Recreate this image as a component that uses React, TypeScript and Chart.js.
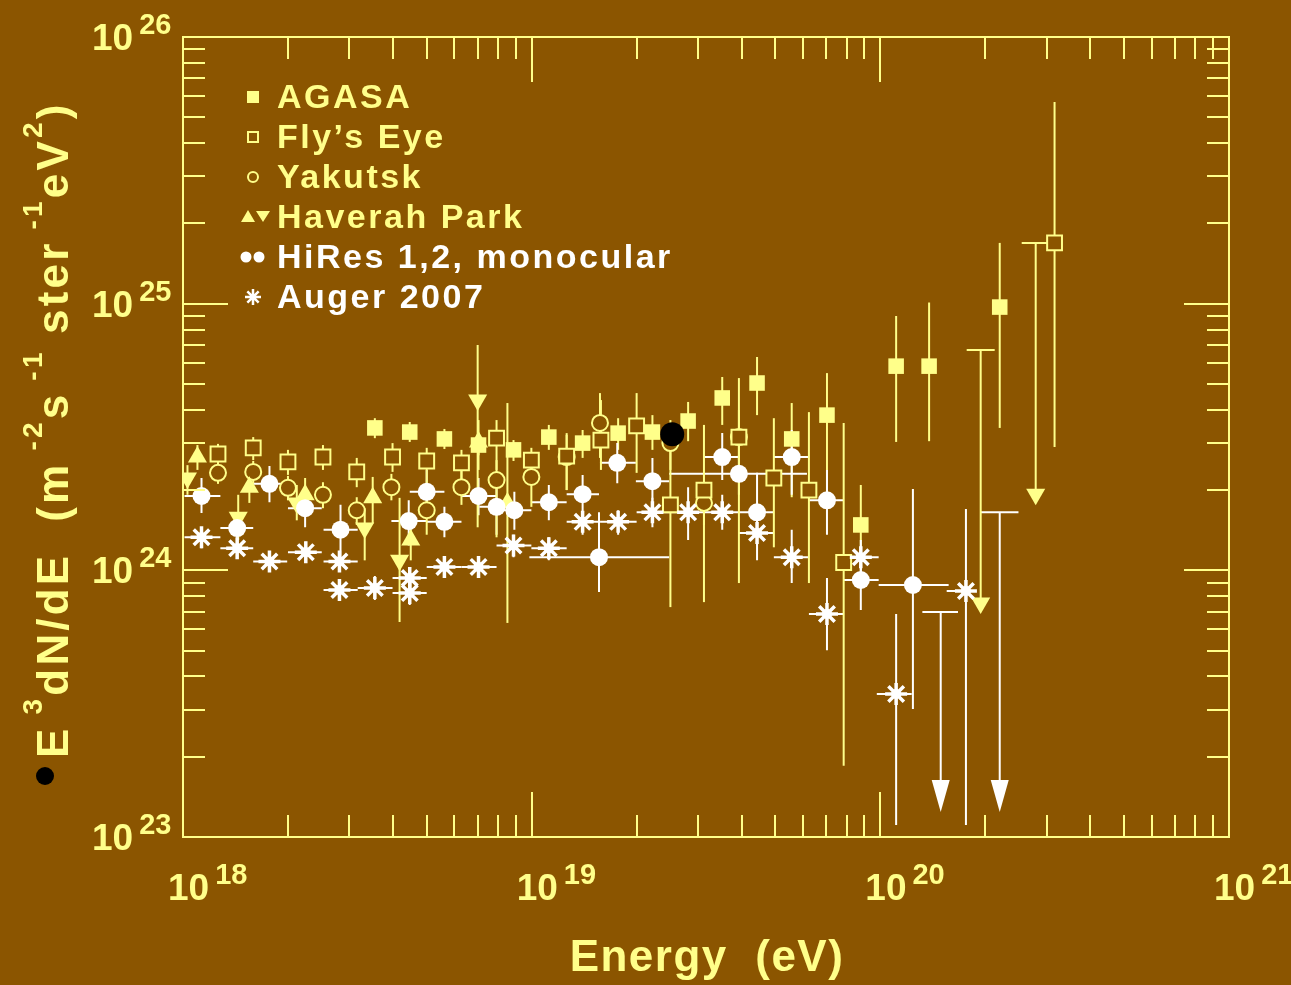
import React, { useEffect, useRef } from 'react';
import { Chart, registerables } from 'chart.js';

Chart.register(...registerables);

const BG = '#8B5500';
const YEL = '#FFFF8A';
const WHT = '#FFFFFF';
const FONT = '"Liberation Sans", Arial, Helvetica, sans-serif';

// [energy, flux, low, high]
const agasa: number[][] = [
  [3.55e18, 3.42e24, 3.13e24, 3.72e24],
  [4.47e18, 3.30e24, 3.03e24, 3.60e24],
  [5.62e18, 3.11e24, 2.85e24, 3.39e24],
  [7.04e18, 2.95e24, 2.70e24, 3.22e24],
  [8.87e18, 2.83e24, 2.57e24, 3.08e24],
  [1.12e19, 3.16e24, 2.83e24, 3.51e24],
  [1.40e19, 3.00e24, 2.64e24, 3.36e24],
  [1.77e19, 3.27e24, 2.83e24, 3.72e24],
  [2.22e19, 3.30e24, 2.83e24, 3.82e24],
  [2.81e19, 3.63e24, 3.05e24, 4.28e24],
  [3.52e19, 4.43e24, 3.51e24, 5.31e24],
  [4.43e19, 5.04e24, 3.82e24, 6.31e24],
  [5.57e19, 3.11e24, 1.88e24, 4.24e24],
  [7.03e19, 3.82e24, 1.88e24, 5.49e24],
  [8.79e19, 1.48e24, 1.09e24, 2.09e24],
  [1.11e20, 5.83e24, 3.03e24, 8.99e24],
  [1.38e20, 5.83e24, 3.05e24, 1.01e25],
  [2.20e20, 9.71e24, 3.42e24, 1.69e25],
];

const flysEye: number[][] = [
  [1.26e18, 2.73e24, 2.46e24, 2.98e24],
  [1.59e18, 2.88e24, 2.59e24, 3.16e24],
  [2.0e18, 2.55e24, 2.28e24, 2.83e24],
  [2.52e18, 2.66e24, 2.38e24, 2.95e24],
  [3.15e18, 2.34e24, 2.05e24, 2.64e24],
  [3.99e18, 2.66e24, 2.34e24, 3.0e24],
  [5.0e18, 2.57e24, 2.05e24, 2.88e24],
  [6.29e18, 2.53e24, 2.0e24, 2.83e24],
  [7.93e18, 3.13e24, 2.38e24, 3.66e24],
  [9.98e18, 2.59e24, 2.09e24, 2.88e24],
  [1.26e19, 2.68e24, 2.0e24, 3.22e24],
  [1.58e19, 3.08e24, 2.38e24, 4.35e24],
  [2.0e19, 3.48e24, 2.32e24, 4.62e24],
  [2.5e19, 1.76e24, 7.28e23, 3.08e24],
  [3.12e19, 2.0e24, 7.6e23, 3.51e24],
  [3.93e19, 3.16e24, 8.96e23, 5.26e24],
  [4.95e19, 2.22e24, 1.22e24, 3.72e24],
  [6.24e19, 2.0e24, 8.96e23, 3.92e24],
  [7.85e19, 1.07e24, 1.85e23, 3.57e24],
  [3.16e20, 1.69e25, 2.9e24, 5.7e25],
];

const yakutsk: number[][] = [
  [1.26e18, 2.32e24, 2.11e24, 2.55e24],
  [1.59e18, 2.34e24, 2.12e24, 2.57e24],
  [2.0e18, 2.04e24, 1.83e24, 2.26e24],
  [2.52e18, 1.92e24, 1.71e24, 2.14e24],
  [3.15e18, 1.68e24, 1.48e24, 1.88e24],
  [3.96e18, 2.05e24, 1.83e24, 2.3e24],
  [5.0e18, 1.68e24, 1.36e24, 2.0e24],
  [6.29e18, 2.05e24, 1.76e24, 2.48e24],
  [7.93e18, 2.18e24, 1.33e24, 2.59e24],
  [9.98e18, 2.24e24, 1.73e24, 2.75e24],
  [1.26e19, 2.66e24, 2.0e24, 3.27e24],
  [1.57e19, 3.57e24, 2.64e24, 4.62e24],
  [2.5e19, 3.0e24, 2.38e24, 3.66e24],
  [3.12e19, 1.79e24, 1.48e24, 2.09e24],
  [3.93e19, 3.16e24, 2.59e24, 3.99e24],
];

const haverahUp: number[][] = [
  [1.10e18, 2.66e24, 2.38e24, 2.95e24],
  [1.55e18, 2.05e24, 1.79e24, 2.38e24],
  [2.24e18, 1.92e24, 1.65e24, 2.22e24],
  [3.50e18, 1.87e24, 1.50e24, 2.24e24],
  [4.50e18, 1.30e24, 1.09e24, 1.54e24],
  [7.04e18, 3.03e24, 2.38e24, 3.66e24],
  [8.52e18, 1.79e24, 6.35e23, 4.24e24],
];

// [energy, flux, low, high, cap on top (1)]
const haverahDown: number[][] = [
  [1.03e18, 2.22e24, 1.92e24, 2.48e24, 0],
  [1.44e18, 1.58e24, 1.30e24, 1.92e24, 0],
  [2.12e18, 1.79e24, 1.54e24, 2.09e24, 0],
  [3.32e18, 1.44e24, 1.09e24, 1.71e24, 0],
  [4.18e18, 1.09e24, 6.40e23, 1.87e24, 0],
  [7.0e18, 4.35e24, 1.45e24, 7.0e24, 0],
  [1.94e20, 7.54e23, 7.54e23, 6.7e24, 1],
  [2.79e20, 1.93e24, 1.93e24, 1.69e25, 1],
];

// [energy, flux, low, high, energyLow, energyHigh]
const hires: number[][] = [
  [1.13e18, 1.90e24, 1.64e24, 2.22e24, 1.01e18, 1.28e18],
  [1.43e18, 1.44e24, 1.24e24, 1.65e24, 1.28e18, 1.59e18],
  [1.77e18, 2.11e24, 1.80e24, 2.46e24, 1.59e18, 1.99e18],
  [2.24e18, 1.71e24, 1.45e24, 2.0e24, 2.0e18, 2.5e18],
  [2.83e18, 1.42e24, 1.07e24, 1.76e24, 2.53e18, 3.17e18],
  [4.44e18, 1.53e24, 1.24e24, 1.83e24, 3.96e18, 5.0e18],
  [5.0e18, 1.97e24, 1.61e24, 2.38e24, 4.47e18, 5.62e18],
  [5.62e18, 1.52e24, 1.33e24, 1.73e24, 5.0e18, 6.29e18],
  [7.04e18, 1.90e24, 1.61e24, 2.22e24, 6.29e18, 7.93e18],
  [7.93e18, 1.73e24, 1.36e24, 2.09e24, 7.08e18, 8.87e18],
  [8.92e18, 1.68e24, 1.42e24, 1.97e24, 7.93e18, 9.98e18],
  [1.12e19, 1.80e24, 1.54e24, 2.09e24, 9.98e18, 1.26e19],
  [1.40e19, 1.93e24, 1.61e24, 2.28e24, 1.26e19, 1.56e19],
  [1.76e19, 2.53e24, 2.12e24, 3.0e24, 1.57e19, 1.99e19],
  [2.22e19, 2.16e24, 1.76e24, 2.64e24, 1.99e19, 2.48e19],
  [1.56e19, 1.12e24, 8.29e23, 1.65e24, 9.85e18, 2.48e19],
  [3.52e19, 2.66e24, 2.18e24, 3.27e24, 3.12e19, 3.93e19],
  [3.93e19, 2.30e24, 1.92e24, 2.71e24, 2.48e19, 6.16e19],
  [4.43e19, 1.65e24, 1.24e24, 2.32e24, 3.93e19, 4.95e19],
  [5.57e19, 2.66e24, 1.92e24, 3.36e24, 4.95e19, 6.24e19],
  [7.03e19, 1.83e24, 1.36e24, 2.38e24, 6.24e19, 7.85e19],
  [8.79e19, 9.20e23, 7.10e23, 1.19e24, 7.85e19, 9.89e19],
  [1.24e20, 8.81e23, 3.02e23, 2.02e24, 9.89e19, 1.57e20],
];

// upper limits: [energy, flux, energyLow, energyHigh]
const hiresLimits: number[][] = [
  [1.49e20, 6.98e23, 1.32e20, 1.67e20],
  [2.20e20, 1.65e24, 1.94e20, 2.49e20],
];
const limitArrowEnd = 1.24e23;

const auger: number[][] = [
  [1.13e18, 1.33e24, 1.21e24, 1.45e24, 1.01e18, 1.28e18],
  [1.43e18, 1.21e24, 1.11e24, 1.32e24, 1.28e18, 1.59e18],
  [1.77e18, 1.08e24, 9.93e23, 1.18e24, 1.59e18, 1.99e18],
  [2.25e18, 1.17e24, 1.07e24, 1.28e24, 2.0e18, 2.5e18],
  [2.81e18, 1.08e24, 9.93e23, 1.18e24, 2.53e18, 3.17e18],
  [2.81e18, 8.44e23, 7.74e23, 9.20e23, 2.53e18, 3.17e18],
  [3.55e18, 8.59e23, 7.74e23, 9.52e23, 3.17e18, 3.99e18],
  [4.47e18, 9.36e23, 8.59e23, 1.02e24, 3.99e18, 5.0e18],
  [4.47e18, 8.22e23, 7.41e23, 8.96e23, 3.99e18, 5.0e18],
  [5.62e18, 1.03e24, 9.44e23, 1.12e24, 5.0e18, 6.29e18],
  [7.04e18, 1.03e24, 9.44e23, 1.12e24, 6.29e18, 7.93e18],
  [8.87e18, 1.24e24, 1.12e24, 1.36e24, 7.93e18, 9.98e18],
  [1.12e19, 1.21e24, 1.09e24, 1.33e24, 9.98e18, 1.26e19],
  [1.40e19, 1.52e24, 1.36e24, 1.66e24, 1.26e19, 1.58e19],
  [1.77e19, 1.52e24, 1.36e24, 1.68e24, 1.58e19, 2.0e19],
  [2.22e19, 1.65e24, 1.45e24, 1.87e24, 2.0e19, 2.5e19],
  [2.81e19, 1.65e24, 1.30e24, 2.05e24, 2.5e19, 3.12e19],
  [3.52e19, 1.65e24, 1.42e24, 1.92e24, 3.12e19, 3.93e19],
  [4.43e19, 1.38e24, 1.09e24, 1.68e24, 3.93e19, 4.95e19],
  [5.57e19, 1.12e24, 8.96e23, 1.42e24, 4.95e19, 6.24e19],
  [7.03e19, 6.86e23, 5.02e23, 9.36e23, 6.24e19, 7.85e19],
  [8.79e19, 1.12e24, 9.60e23, 1.30e24, 7.85e19, 9.89e19],
  [1.11e20, 3.44e23, 1.11e23, 6.86e23, 9.77e19, 1.23e20],
  [1.76e20, 8.36e23, 1.11e23, 1.70e24, 1.55e20, 1.85e20],
];

const blackDot: number[][] = [[2.53e19, 3.24e24]];

const xDecades = [18, 19, 20, 21];
const yDecades = [23, 24, 25, 26];
const minorSteps = [2, 3, 4, 5, 6, 7, 8, 9];
const legendLabels = ['AGASA', 'Fly\u2019s Eye', 'Yakutsk', 'Haverah Park', 'HiRes 1,2, monocular', 'Auger 2007'];
const xTitle = 'Energy  (eV)';
// [text, superscript?]
const yTitleRuns: [string, number][] = [
  ['E', 0], [' 3', 1], ['dN/dE  (m', 0], [' -2', 1], ['s', 0], [' -1', 1], [' ster', 0], [' -1', 1], ['eV', 0], ['2', 1], [')', 0],
];

const toPts = (rows: number[][]) => rows.map((r) => ({ x: r[0], y: r[1] }));

const bgPlugin = {
  id: 'bg',
  beforeDraw(chart: any) {
    const { ctx, width, height } = chart;
    ctx.save();
    ctx.fillStyle = BG;
    ctx.fillRect(0, 0, width, height);
    ctx.restore();
  },
};

const errorBarPlugin = {
  id: 'errorBars',
  beforeDatasetsDraw(chart: any) {
    const { ctx, chartArea: a, scales } = chart;
    const xs = scales.x;
    const ys = scales.y;
    ctx.save();
    ctx.beginPath();
    ctx.rect(a.left, a.top, a.right - a.left, a.bottom - a.top);
    ctx.clip();
    ctx.lineWidth = 2;
    for (const ds of chart.data.datasets) {
      const rows = ds.errRows;
      if (!rows) continue;
      ctx.strokeStyle = ds.errColor;
      ctx.fillStyle = ds.errColor;
      for (const r of rows) {
        const px = xs.getPixelForValue(r[0]);
        const py = ys.getPixelForValue(r[1]);
        if (ds.errKind === 'limit') {
          const x0 = xs.getPixelForValue(r[2]);
          const x1 = xs.getPixelForValue(r[3]);
          const tip = ys.getPixelForValue(limitArrowEnd);
          ctx.beginPath();
          ctx.moveTo(x0, py);
          ctx.lineTo(x1, py);
          ctx.moveTo(px, py);
          ctx.lineTo(px, tip - 28);
          ctx.stroke();
          ctx.beginPath();
          ctx.moveTo(px - 9, tip - 32);
          ctx.lineTo(px + 9, tip - 32);
          ctx.lineTo(px, tip);
          ctx.closePath();
          ctx.fill();
          continue;
        }
        const lo = ys.getPixelForValue(r[2]);
        const hi = ys.getPixelForValue(r[3]);
        ctx.beginPath();
        ctx.moveTo(px, lo);
        ctx.lineTo(px, hi);
        if (ds.errKind === 'vh') {
          ctx.moveTo(xs.getPixelForValue(r[4]), py);
          ctx.lineTo(xs.getPixelForValue(r[5]), py);
        }
        if (ds.errKind === 'v' && r[4] === 1) {
          ctx.moveTo(px - 14, hi);
          ctx.lineTo(px + 14, hi);
        }
        ctx.stroke();
      }
    }
    ctx.restore();
  },
};

function drawPow(ctx: CanvasRenderingContext2D, exp: number, left: number, base: number) {
  ctx.font = `bold 37px ${FONT}`;
  ctx.textAlign = 'left';
  ctx.textBaseline = 'alphabetic';
  ctx.fillText('10', left, base);
  const w = ctx.measureText('10').width;
  ctx.font = `bold 29px ${FONT}`;
  ctx.fillText(String(exp), left + w + 6, base - 16);
}

const framePlugin = {
  id: 'frame',
  afterDraw(chart: any) {
    const { ctx, chartArea: a, scales } = chart;
    const xs = scales.x;
    const ys = scales.y;
    ctx.save();
    ctx.strokeStyle = YEL;
    ctx.fillStyle = YEL;
    ctx.lineWidth = 2;
    ctx.strokeRect(a.left, a.top, a.right - a.left, a.bottom - a.top);

    const build = (decades: number[]) => {
      const out: [number, boolean][] = [];
      decades.forEach((d, i) => {
        out.push([10 ** d, true]);
        if (i < decades.length - 1) minorSteps.forEach((m) => out.push([m * 10 ** d, false]));
      });
      return out;
    };
    ctx.beginPath();
    for (const [v, major] of build(xDecades)) {
      const p = Math.round(xs.getPixelForValue(v));
      const len = major ? 45 : 22;
      ctx.moveTo(p, a.bottom);
      ctx.lineTo(p, a.bottom - len);
      ctx.moveTo(p, a.top);
      ctx.lineTo(p, a.top + len);
    }
    for (const [v, major] of build(yDecades)) {
      const p = Math.round(ys.getPixelForValue(v));
      const len = major ? 45 : 22;
      ctx.moveTo(a.left, p);
      ctx.lineTo(a.left + len, p);
      ctx.moveTo(a.right, p);
      ctx.lineTo(a.right - len, p);
    }
    ctx.stroke();

    // tick labels
    for (const d of xDecades) {
      const p = xs.getPixelForValue(10 ** d);
      drawPow(ctx, d, p - 15, 900);
    }
    for (const d of yDecades) {
      const p = ys.getPixelForValue(10 ** d);
      drawPow(ctx, d, 92, p + 13);
    }

    // x title
    ctx.font = `bold 44px ${FONT}`;
    (ctx as any).letterSpacing = '1.5px';
    ctx.textAlign = 'center';
    ctx.fillText(xTitle, 707, 971);

    // y title (rotated)
    ctx.save();
    ctx.translate(68, 758);
    ctx.rotate(-Math.PI / 2);
    ctx.textAlign = 'left';
    (ctx as any).letterSpacing = '3.2px';
    let cx = 0;
    for (const [t, sup] of yTitleRuns) {
      ctx.font = sup ? `bold 28px ${FONT}` : `bold 44px ${FONT}`;
      ctx.fillText(t, cx, sup ? -26 : 0);
      cx += ctx.measureText(t).width;
    }
    ctx.restore();
    ctx.fillStyle = '#000';
    ctx.beginPath();
    ctx.arc(45, 776, 9, 0, Math.PI * 2);
    ctx.fill();

    // legend
    (ctx as any).letterSpacing = '2.5px';
    ctx.textAlign = 'left';
    ctx.font = `bold 34px ${FONT}`;
    const rows = [108, 148, 188, 228, 268, 308];
    legendLabels.forEach((lab, i) => {
      ctx.fillStyle = i < 4 ? YEL : WHT;
      ctx.fillText(lab, 277, rows[i]);
    });
    (ctx as any).letterSpacing = '0px';
    const cy = rows.map((r) => r - 11);
    ctx.fillStyle = YEL;
    ctx.strokeStyle = YEL;
    ctx.lineWidth = 2;
    ctx.fillRect(247, cy[0] - 6, 12, 12);
    ctx.strokeRect(248, cy[1] - 5, 10, 10);
    ctx.beginPath();
    ctx.arc(253, cy[2], 5, 0, Math.PI * 2);
    ctx.stroke();
    ctx.beginPath();
    ctx.moveTo(241, cy[3] + 5);
    ctx.lineTo(255, cy[3] + 5);
    ctx.lineTo(248, cy[3] - 7);
    ctx.closePath();
    ctx.moveTo(256, cy[3] - 6);
    ctx.lineTo(270, cy[3] - 6);
    ctx.lineTo(263, cy[3] + 5);
    ctx.closePath();
    ctx.fill();
    ctx.fillStyle = WHT;
    ctx.strokeStyle = WHT;
    ctx.beginPath();
    ctx.arc(246, cy[4], 5.5, 0, Math.PI * 2);
    ctx.arc(259, cy[4], 5.5, 0, Math.PI * 2);
    ctx.fill();
    ctx.lineWidth = 2.5;
    ctx.beginPath();
    for (let k = 0; k < 4; k++) {
      const ang = (k * Math.PI) / 4;
      ctx.moveTo(253 - 8 * Math.cos(ang), cy[5] - 8 * Math.sin(ang));
      ctx.lineTo(253 + 8 * Math.cos(ang), cy[5] + 8 * Math.sin(ang));
    }
    ctx.stroke();
    ctx.restore();
  },
};

export default function App() {
  const ref = useRef<HTMLCanvasElement>(null);
  useEffect(() => {
    const canvas = ref.current;
    if (!canvas) return;
    const chart = new Chart(canvas, {
      type: 'scatter',
      data: {
        datasets: [
          { label: 'marker', data: toPts(blackDot), pointStyle: 'circle', pointRadius: 12, backgroundColor: '#000', borderColor: '#000', borderWidth: 0 },
          { label: 'AGASA', data: toPts(agasa), errRows: agasa, errKind: 'v', errColor: YEL, pointStyle: 'rect', pointRadius: 11, backgroundColor: YEL, borderColor: YEL, borderWidth: 0 },
          { label: 'HiRes', data: toPts(hires), errRows: hires, errKind: 'vh', errColor: WHT, pointStyle: 'circle', pointRadius: 9, backgroundColor: WHT, borderColor: WHT, borderWidth: 0 },
          { label: 'HiRes limits', data: toPts(hiresLimits), errRows: hiresLimits, errKind: 'limit', errColor: WHT, pointRadius: 0 },
          { label: 'Auger 2007', data: toPts(auger), errRows: auger, errKind: 'vh', errColor: WHT, pointStyle: 'star', pointRadius: 11, backgroundColor: WHT, borderColor: WHT, borderWidth: 3.5 },
          { label: 'Auger core', data: toPts(auger), pointStyle: 'circle', pointRadius: 5, backgroundColor: WHT, borderColor: WHT, borderWidth: 0 },
          { label: 'Haverah up', data: toPts(haverahUp), errRows: haverahUp, errKind: 'v', errColor: YEL, pointStyle: 'triangle', pointRadius: 11, backgroundColor: YEL, borderColor: YEL, borderWidth: 0 },
          { label: 'Haverah down', data: toPts(haverahDown), errRows: haverahDown, errKind: 'v', errColor: YEL, pointStyle: 'triangle', rotation: 180, pointRadius: 11, backgroundColor: YEL, borderColor: YEL, borderWidth: 0 },
          { label: 'Fly\u2019s Eye', data: toPts(flysEye), errRows: flysEye, errKind: 'v', errColor: YEL, pointStyle: 'rect', pointRadius: 10.5, backgroundColor: BG, borderColor: YEL, borderWidth: 2 },
          { label: 'Yakutsk', data: toPts(yakutsk), errRows: yakutsk, errKind: 'v', errColor: YEL, pointStyle: 'circle', pointRadius: 8, backgroundColor: BG, borderColor: YEL, borderWidth: 2 },
        ] as any,
      },
      options: {
        animation: false,
        responsive: false,
        devicePixelRatio: 1,
        layout: { padding: { left: 183, right: 62, top: 37, bottom: 148 } },
        scales: {
          x: { type: 'logarithmic', min: 1e18, max: 1e21, display: false },
          y: { type: 'logarithmic', min: 1e23, max: 1e26, display: false },
        },
        plugins: { legend: { display: false }, tooltip: { enabled: false } },
        elements: { point: { hoverRadius: 0 } },
        datasets: { scatter: { clip: 0 } as any },
      } as any,
      plugins: [bgPlugin, errorBarPlugin, framePlugin],
    });
    return () => chart.destroy();
  }, []);
  return (
    <div style={{ position: 'absolute', left: 0, top: 0, width: 1291, height: 985, background: BG }}>
      <canvas ref={ref} width={1291} height={985} style={{ display: 'block' }} />
    </div>
  );
}
